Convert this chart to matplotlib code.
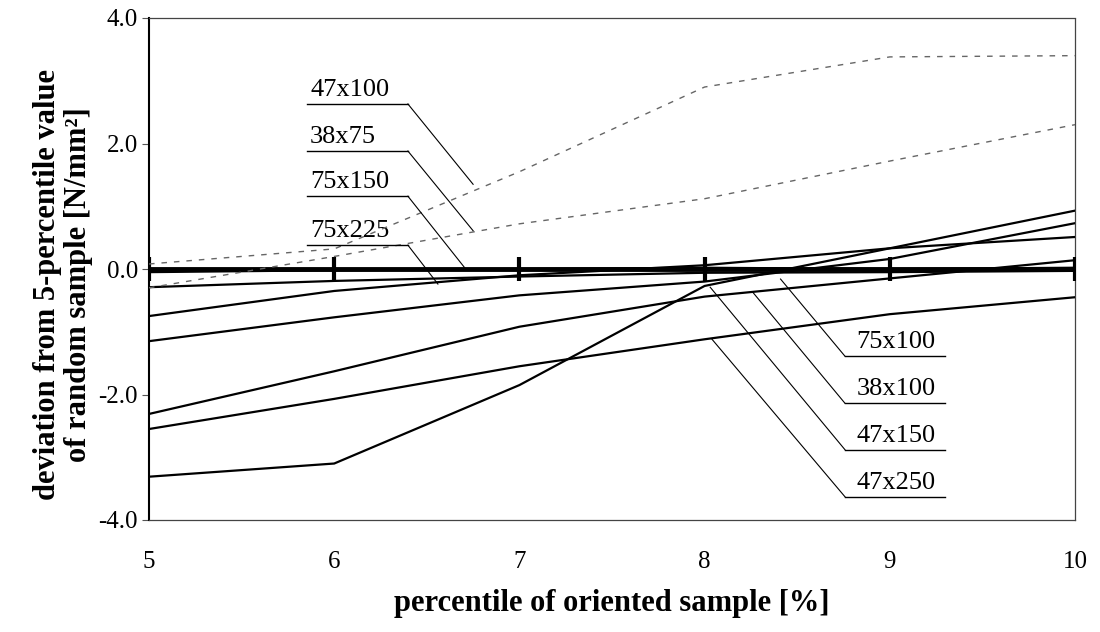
import matplotlib
matplotlib.use("Agg")
import matplotlib.pyplot as plt
import numpy as np

plt.rcParams['font.family'] = ['Liberation Serif', 'DejaVu Serif']

# percentile of oriented sample [%]
x = [5, 6, 7, 8, 9, 10]

# solid series
s_47x150 = [-3.31, -3.10, -1.85, -0.27, 0.33, 0.93]
s_47x250 = [-2.55, -2.07, -1.55, -1.12, -0.72, -0.45]
s_38x100 = [-2.31, -1.63, -0.92, -0.44, -0.15, 0.14]
s_75x100 = [-1.15, -0.77, -0.42, -0.20, 0.16, 0.73]
s_75x225 = [-0.75, -0.35, -0.10, 0.06, 0.33, 0.51]
s_other = [-0.29, -0.19, -0.12, -0.06, -0.05, -0.03]
s_75x150 = [-0.05, -0.02, 0.00, 0.02, 0.00, 0.02]
# dashed series
s_47x100 = [0.08, 0.32, 1.55, 2.90, 3.38, 3.40]
s_38x75 = [-0.30, 0.20, 0.72, 1.12, 1.72, 2.30]

yticks = [-4.0, -2.0, 0.0, 2.0, 4.0]

fig = plt.figure(figsize=(11, 6.32), dpi=100)
ax = fig.add_axes([149/1100, 1-520/632, (1075-149)/1100, (520-18)/632])
ax.set_xlim(5, 10)
ax.set_ylim(-4, 4)

# zero line with crossing ticks
ax.plot(x, [0]*len(x), color='black', lw=3.5, marker='|', ms=17, mew=3, zorder=3)

for s in [s_47x150, s_47x250, s_38x100, s_75x100, s_75x225, s_other, s_75x150]:
    ax.plot(x, s, color='black', lw=1.6, zorder=4)
for s in [s_47x100, s_38x75]:
    ax.plot(x, s, color='#666666', lw=1.0, ls=(0, (4, 5)), zorder=4)

# labels with leaders
left_labels = ['47x100', '38x75', '75x150', '75x225']
left_y = [2.63, 1.88, 1.16, 0.38]
left_tip = [(6.75, 1.35), (6.75, 0.61), (6.71, 0.0), (6.56, -0.24)]
for lab, yy, (tx, ty) in zip(left_labels, left_y, left_tip):
    ax.plot([5.853, 6.398], [yy, yy], color='black', lw=1.0, zorder=5)
    ax.plot([6.398, tx], [yy, ty], color='black', lw=0.8, zorder=5)
    ax.text(5.87, yy + 0.05, lab, fontsize=19, ha='left', va='bottom')

right_labels = ['75x100', '38x100', '47x150', '47x250']
right_y = [-1.39, -2.14, -2.88, -3.63]
right_tip = [(8.41, -0.16), (8.26, -0.37), (8.03, -0.29), (8.04, -1.12)]
for lab, yy, (tx, ty) in zip(right_labels, right_y, right_tip):
    ax.plot([8.758, 9.30], [yy, yy], color='black', lw=1.0, zorder=5)
    ax.plot([8.758, tx], [yy, ty], color='black', lw=0.8, zorder=5)
    ax.text(8.82, yy + 0.05, lab, fontsize=19, ha='left', va='bottom')

# axes styling
ax.spines['left'].set_color('black')
ax.spines['left'].set_linewidth(1.5)
for side in ['top', 'right', 'bottom']:
    ax.spines[side].set_color('#444444')
    ax.spines[side].set_linewidth(0.9)
    ax.spines[side].set_linestyle((0, (1, 1)))

ax.set_yticks(yticks)
ax.set_yticklabels(['%.1f' % v for v in yticks])
ax.set_xticks(x)
ax.set_xticklabels([str(v) for v in x])
ax.tick_params(axis='y', length=5, width=0.8, color='#555555', labelsize=18, pad=3)
ax.tick_params(axis='x', length=0, labelsize=18, pad=22)

ax.set_xlabel('percentile of oriented sample [%]', fontsize=22, fontweight='bold', labelpad=12)
fig.text(0.057, 1-285/632, 'deviation from 5-percentile value\nof random sample [N/mm²]',
         rotation=90, ha='center', va='center', fontsize=22, fontweight='bold',
         multialignment='center', linespacing=1.1)

fig.savefig('out.png', dpi=100)
